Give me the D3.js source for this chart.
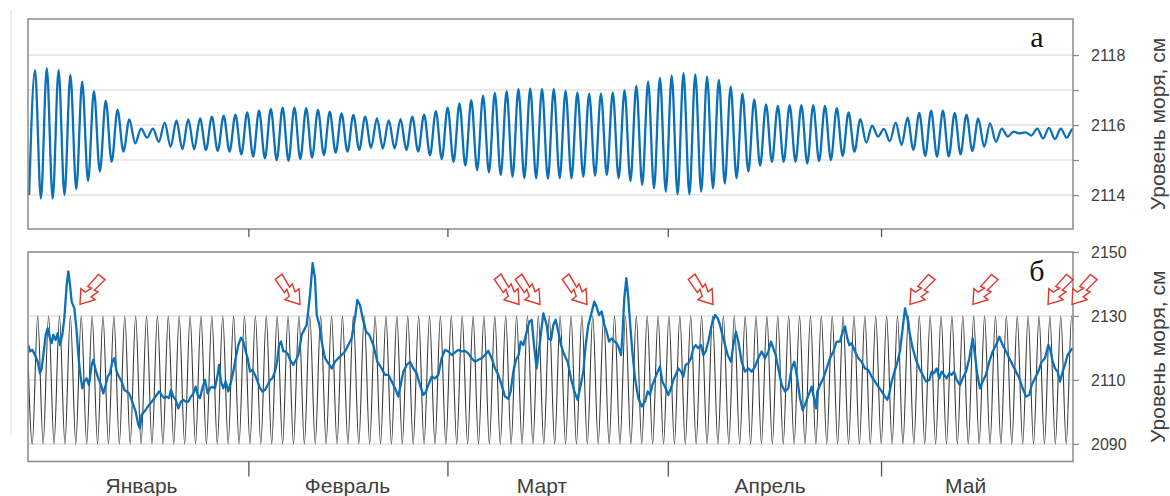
<!DOCTYPE html>
<html>
<head>
<meta charset="utf-8">
<script src="https://cdn.jsdelivr.net/npm/d3@7"></script>
<style>
  body { margin: 0; background: #fff; }
  svg { display: block; }
</style>
</head>
<body>
<div id="chart"></div>
<script>
// ---- data ----
const months = ["Январь", "Февраль", "Март", "Апрель", "Май"];
const monthLabelDay = [15.97, 44.94, 72.3, 104.4, 131.9];
const monthStartDay = [31, 59, 90, 120];
const lastDay = 147;

// panel а: successive highs/lows of the sea level, evenly spaced in time
const topStartDay = 0.155;
const topHalfPeriod = 0.8293;
const topExtremes = [
  2114.0,
  2117.57, 2113.90, 2117.62, 2113.90, 2117.57, 2114.00, 2117.43, 2114.17, 2117.24, 2114.40,
  2116.97, 2114.67, 2116.70, 2114.95, 2116.43, 2115.24, 2116.16, 2115.48, 2115.90, 2115.64,
  2115.90, 2115.52, 2116.07, 2115.38, 2116.13, 2115.31, 2116.16, 2115.31, 2116.19, 2115.29,
  2116.24, 2115.26, 2116.27, 2115.24, 2116.30, 2115.16, 2116.36, 2115.10, 2116.41, 2115.05,
  2116.46, 2115.00, 2116.50, 2114.98, 2116.50, 2115.03, 2116.48, 2115.07, 2116.43, 2115.14,
  2116.38, 2115.21, 2116.33, 2115.24, 2116.29, 2115.29, 2116.24, 2115.35, 2116.19,
  2115.33, 2116.14, 2115.33, 2116.17, 2115.29, 2116.24, 2115.24, 2116.30, 2115.14, 2116.40,
  2115.03, 2116.50, 2114.95, 2116.62, 2114.84, 2116.71, 2114.71, 2116.84, 2114.65, 2116.92,
  2114.57, 2116.97, 2114.52, 2117.03, 2114.48, 2117.05, 2114.48, 2117.03, 2114.46, 2117.03,
  2114.48, 2116.98, 2114.48, 2116.93, 2114.52, 2116.90, 2114.55, 2116.90, 2114.57, 2116.93,
  2114.48, 2117.00, 2114.40, 2117.12, 2114.29, 2117.24, 2114.19, 2117.35, 2114.10, 2117.41,
  2114.02, 2117.48, 2114.02, 2117.45, 2114.10, 2117.38, 2114.19, 2117.29, 2114.33, 2117.10,
  2114.48, 2116.90, 2114.67, 2116.73, 2114.84, 2116.59, 2114.95, 2116.55, 2114.95, 2116.57,
  2114.95, 2116.57, 2114.90, 2116.57, 2114.97, 2116.55, 2115.00, 2116.48, 2115.12, 2116.36,
  2115.24, 2116.17, 2115.50, 2115.98, 2115.67, 2115.89, 2115.54, 2116.07, 2115.43, 2116.21,
  2115.29, 2116.35, 2115.12, 2116.41, 2115.10, 2116.41, 2115.10, 2116.35, 2115.16, 2116.30,
  2115.26, 2116.19, 2115.38, 2116.05, 2115.52, 2115.90, 2115.67, 2115.81, 2115.76, 2115.79,
  2115.70, 2115.90, 2115.62, 2115.92, 2115.60, 2115.90, 2115.64, 2115.88, 2115.65
];

// panel б: reference tide (black), highs/lows evenly spaced in time
const tideStartDay = -0.166;
const tideHalfPeriod = 0.7655;
const tideExtremes = [
  2130, 2090, 2130, 2090, 2130, 2090, 2130, 2090, 2130, 2090, 2130, 2090, 2130, 2090, 2130, 2090, 2130, 2090, 2130, 2090,
  2130, 2090, 2130, 2090, 2130, 2090, 2130, 2090, 2130, 2090, 2130, 2090, 2130, 2090, 2130, 2090, 2130, 2090, 2130, 2090,
  2130, 2090, 2130, 2090, 2130, 2090, 2130, 2090, 2130, 2090, 2130, 2090, 2130, 2090, 2130, 2090, 2130, 2090, 2130, 2090,
  2130, 2090, 2130, 2090, 2130, 2090, 2130, 2090, 2130, 2090, 2130, 2090, 2130, 2090, 2130, 2090, 2130, 2090, 2130, 2090,
  2130, 2090, 2130, 2090, 2130, 2090, 2130, 2090, 2130, 2090, 2130, 2090, 2130, 2090, 2130, 2090, 2130, 2090, 2130, 2090,
  2130, 2090, 2130, 2090, 2130, 2090, 2130, 2090, 2130, 2090, 2130, 2090, 2130, 2090, 2130, 2090, 2130, 2090, 2130, 2090,
  2130, 2090, 2130, 2090, 2130, 2090, 2130, 2090, 2130, 2090, 2130, 2090, 2130, 2090, 2130, 2090, 2130, 2090, 2130, 2090,
  2130, 2090, 2130, 2090, 2130, 2090, 2130, 2090, 2130, 2090, 2130, 2090, 2130, 2090, 2130, 2090, 2130, 2090, 2130, 2090,
  2130, 2090, 2130, 2090, 2130, 2090, 2130, 2090, 2130, 2090, 2130, 2090, 2130, 2090, 2130, 2090, 2130, 2090, 2130, 2090,
  2130, 2090, 2130, 2090, 2130, 2090, 2130, 2090, 2130, 2090, 2130, 2090, 2130, 2090
];

// panel б: observed sea level, [day, cm]
const observed = [
  [0.05, 2120.9], [0.28, 2118.9], [0.61, 2119.4], [0.98, 2117.8], [1.36, 2115.7], [1.69, 2112.1], [1.92, 2113.6],
  [2.16, 2117.8], [2.49, 2124.1], [2.77, 2126.1], [3.09, 2123.0], [3.33, 2121.5], [3.56, 2124.1], [3.89, 2122.5],
  [4.17, 2124.6], [4.50, 2120.9], [4.83, 2124.1], [5.11, 2129.3], [5.44, 2139.7], [5.67, 2143.9], [5.91, 2139.7],
  [6.14, 2134.5], [6.52, 2132.4], [6.85, 2125.1], [7.08, 2117.8], [7.31, 2112.6], [7.64, 2107.4], [7.92, 2109.5],
  [8.25, 2110.5], [8.58, 2108.4], [8.96, 2114.7], [9.19, 2116.3], [9.52, 2113.1], [9.89, 2110.5], [10.27, 2108.4],
  [10.60, 2105.8], [10.93, 2108.4], [11.21, 2111.0], [11.53, 2112.1], [11.86, 2115.7], [12.14, 2116.8], [12.47, 2112.6],
  [12.80, 2111.0], [13.18, 2109.5], [13.55, 2106.9], [13.88, 2106.4], [14.21, 2105.8], [14.49, 2104.3], [14.82, 2102.2],
  [15.15, 2100.1], [15.52, 2095.9], [15.75, 2094.9], [15.99, 2099.1], [16.36, 2100.1], [16.69, 2101.1], [17.02, 2102.2],
  [17.40, 2103.2], [17.77, 2104.3], [18.10, 2105.3], [18.43, 2106.4], [18.80, 2105.3], [19.18, 2104.3], [19.51, 2104.8],
  [19.83, 2104.3], [20.12, 2106.9], [20.44, 2104.8], [20.77, 2103.8], [21.15, 2101.1], [21.52, 2103.2], [21.85, 2103.8],
  [22.18, 2103.2], [22.55, 2103.2], [22.93, 2104.8], [23.26, 2105.8], [23.59, 2107.9], [23.87, 2105.3], [24.19, 2104.3],
  [24.52, 2107.4], [24.90, 2110.0], [25.27, 2105.8], [25.60, 2107.4], [25.93, 2107.9], [26.30, 2107.4], [26.68, 2111.6],
  [26.87, 2114.7], [27.15, 2109.5], [27.48, 2107.4], [27.80, 2109.5], [28.18, 2106.4], [28.56, 2109.5], [28.88, 2112.6],
  [29.21, 2116.8], [29.59, 2120.9], [29.96, 2123.2], [30.29, 2122.0], [30.62, 2118.9], [30.90, 2116.8], [31.23, 2112.6],
  [31.56, 2113.1], [31.93, 2111.6], [32.31, 2109.5], [32.64, 2107.4], [32.96, 2106.4], [33.34, 2106.9], [33.71, 2108.4],
  [34.04, 2110.0], [34.37, 2110.5], [34.74, 2112.6], [35.03, 2115.7], [35.31, 2120.9], [35.59, 2122.0], [35.92, 2118.9],
  [36.25, 2118.9], [36.62, 2117.8], [36.86, 2116.3], [37.32, 2114.7], [37.70, 2116.3], [38.03, 2117.8], [38.50, 2124.1],
  [39.20, 2127.2], [39.67, 2136.6], [40.04, 2146.5], [40.37, 2141.8], [40.61, 2130.3], [40.98, 2127.2], [41.31, 2122.0],
  [41.78, 2116.8], [42.25, 2115.2], [42.72, 2113.6], [43.18, 2115.7], [43.65, 2116.8], [44.12, 2117.8], [44.59, 2118.9],
  [45.06, 2120.9], [45.53, 2123.0], [46.00, 2129.3], [46.33, 2135.0], [46.70, 2133.4], [47.08, 2129.3], [47.55, 2125.1],
  [48.01, 2124.1], [48.58, 2120.9], [49.14, 2115.7], [49.75, 2113.6], [50.22, 2111.6], [50.69, 2111.6], [51.16, 2109.5],
  [51.63, 2107.4], [52.09, 2104.8], [52.42, 2108.4], [52.80, 2112.6], [53.27, 2114.7], [53.74, 2115.7], [54.20, 2113.6],
  [54.67, 2112.1], [55.14, 2108.4], [55.61, 2105.3], [55.99, 2106.4], [56.31, 2108.4], [56.78, 2111.0], [57.25, 2110.5],
  [57.72, 2111.6], [58.19, 2116.8], [58.66, 2119.4], [59.13, 2118.9], [59.60, 2117.8], [60.07, 2118.6], [60.53, 2119.4],
  [61.00, 2118.9], [61.47, 2119.1], [61.94, 2118.3], [62.41, 2116.8], [62.88, 2115.7], [63.35, 2116.3], [63.82, 2116.8],
  [64.29, 2117.8], [64.75, 2119.1], [65.22, 2116.8], [65.69, 2113.6], [66.16, 2111.6], [66.63, 2108.4], [67.10, 2104.8],
  [67.57, 2104.1], [67.90, 2106.4], [68.27, 2112.6], [68.65, 2116.3], [69.02, 2117.8], [69.30, 2122.0], [69.68, 2120.9],
  [70.05, 2124.1], [70.52, 2128.2], [70.85, 2128.8], [71.18, 2120.9], [71.55, 2113.6], [72.02, 2122.0], [72.49, 2130.8],
  [72.96, 2127.2], [73.19, 2123.0], [73.57, 2122.5], [73.90, 2127.2], [74.22, 2128.8], [74.60, 2125.1], [74.98, 2120.9],
  [75.44, 2117.8], [75.91, 2115.7], [76.38, 2110.5], [76.85, 2106.4], [77.32, 2103.8], [77.65, 2107.4], [78.12, 2112.6],
  [78.45, 2120.9], [78.82, 2127.2], [79.20, 2130.3], [79.66, 2134.5], [79.99, 2132.9], [80.32, 2130.3], [80.70, 2131.4],
  [81.07, 2127.2], [81.40, 2125.1], [81.73, 2122.0], [82.10, 2123.0], [82.48, 2122.0], [82.81, 2121.5], [83.13, 2119.9],
  [83.42, 2117.8], [83.60, 2123.0], [83.88, 2135.5], [84.17, 2141.8], [84.45, 2135.5], [84.68, 2128.2], [85.01, 2118.9],
  [85.39, 2110.5], [85.85, 2104.3], [86.32, 2101.7], [86.79, 2103.2], [87.17, 2106.4], [87.50, 2105.3], [87.82, 2108.4],
  [88.20, 2110.5], [88.57, 2112.6], [88.90, 2114.2], [89.23, 2109.5], [89.70, 2107.4], [90.07, 2105.3], [90.45, 2107.4],
  [90.78, 2110.0], [91.11, 2111.6], [91.48, 2113.6], [91.86, 2112.6], [92.18, 2111.0], [92.51, 2114.7], [92.89, 2115.2],
  [93.26, 2116.8], [93.59, 2119.9], [93.92, 2120.9], [94.29, 2119.9], [94.67, 2120.9], [95.00, 2117.8], [95.33, 2118.9],
  [95.70, 2122.0], [96.17, 2127.2], [96.64, 2130.3], [97.01, 2129.3], [97.34, 2127.2], [97.67, 2124.1], [98.05, 2120.9],
  [98.42, 2117.8], [98.89, 2115.7], [99.26, 2121.5], [99.59, 2125.1], [99.92, 2122.0], [100.39, 2115.7], [100.86, 2112.6],
  [101.33, 2113.6], [101.80, 2112.6], [102.27, 2114.2], [102.73, 2116.8], [103.20, 2118.9], [103.67, 2116.8], [104.14, 2118.9],
  [104.52, 2122.0], [104.84, 2119.9], [105.17, 2117.8], [105.55, 2113.6], [106.02, 2108.4], [106.49, 2106.4], [106.95, 2107.4],
  [107.42, 2113.6], [107.80, 2115.7], [108.13, 2111.6], [108.46, 2106.4], [108.60, 2104.3], [108.97, 2100.6], [109.30, 2102.2],
  [109.63, 2104.3], [110.00, 2106.4], [110.24, 2107.9], [110.57, 2104.3], [110.85, 2101.1], [111.04, 2106.4], [111.41, 2108.4],
  [111.88, 2110.5], [112.35, 2113.6], [112.82, 2116.8], [113.29, 2118.9], [113.75, 2122.0], [114.22, 2122.0], [114.60, 2125.1],
  [114.93, 2126.7], [115.26, 2123.0], [115.54, 2120.9], [115.86, 2121.5], [116.33, 2118.9], [116.80, 2116.8], [117.27, 2115.7],
  [117.74, 2113.6], [118.21, 2113.1], [118.68, 2111.0], [119.15, 2109.5], [119.62, 2107.9], [120.09, 2106.4], [120.55, 2104.8],
  [120.88, 2103.8], [121.16, 2105.8], [121.49, 2109.5], [121.82, 2112.1], [122.19, 2114.7], [122.66, 2118.9], [123.04, 2126.1],
  [123.37, 2132.4], [123.70, 2129.3], [124.07, 2124.1], [124.45, 2119.9], [124.91, 2116.3], [125.38, 2113.6], [125.85, 2111.6],
  [126.32, 2109.5], [126.79, 2110.0], [127.12, 2112.6], [127.45, 2112.1], [127.82, 2113.6], [128.20, 2110.5], [128.52, 2112.6],
  [128.85, 2111.6], [129.23, 2110.5], [129.60, 2112.1], [129.93, 2111.6], [130.26, 2112.6], [130.64, 2110.0], [131.10, 2108.4],
  [131.48, 2110.5], [131.95, 2112.6], [132.42, 2116.8], [132.89, 2123.0], [133.21, 2117.8], [133.54, 2111.6], [133.92, 2107.4],
  [134.29, 2109.5], [134.76, 2111.6], [135.23, 2115.7], [135.70, 2118.9], [136.17, 2120.9], [136.64, 2123.5], [137.11, 2120.9],
  [137.58, 2118.9], [138.04, 2116.8], [138.51, 2114.7], [138.98, 2112.6], [139.45, 2110.5], [139.92, 2107.4], [140.39, 2104.8],
  [140.86, 2105.3], [141.19, 2108.4], [141.65, 2110.5], [142.12, 2112.6], [142.59, 2115.7], [143.06, 2116.8], [143.53, 2120.9],
  [143.76, 2119.9], [144.14, 2115.7], [144.47, 2113.6], [144.84, 2112.6], [145.17, 2109.5], [145.55, 2112.6], [145.92, 2115.2],
  [146.25, 2117.8], [146.58, 2118.9], [146.95, 2119.9]
];

// surge markers (red arrows): day of the tip and pointing direction
const arrowDay = [7.31, 38.26, 69.07, 72.02, 78.63, 96.36, 124.07, 132.93, 143.48, 146.86];
const arrowDir = ["sw", "se", "se", "se", "se", "se", "sw", "sw", "sw", "sw"];
const arrowLevel = 2133.6;

// ---- chart ----
const width = 1170, height = 496;
const left = 28, right = 1073;
const axisColor = "#8a8a8a", textColor = "#404040";
const sans = "'Liberation Sans', Arial, sans-serif";

const svg = d3.select("#chart").append("svg")
  .attr("width", width)
  .attr("height", height);

// faint vertical rule at the far left of the scan
svg.append("line")
  .attr("x1", 11).attr("x2", 11).attr("y1", 10).attr("y2", 435)
  .attr("stroke", "#e8e8e8").attr("stroke-width", 1.5);

const x = d3.scaleLinear().domain([0, lastDay]).range([left, right]);

const panels = [
  { id: "a", top: 19, bottom: 229, domain: [2113.03, 2119.03],
    ticks: [2114, 2115, 2116, 2117, 2118], labels: [2114, 2116, 2118],
    grid: [2114, 2115, 2116, 2117, 2118], monthTick: 8, letter: "а", letterY: 46.5 },
  { id: "b", top: 252, bottom: 461.5, domain: [2084.5, 2150],
    ticks: [2090, 2110, 2130, 2150], labels: [2090, 2110, 2130, 2150],
    grid: [2090, 2110, 2130], monthTick: 15, letter: "б", letterY: 281 }
];

panels.forEach(p => {
  p.y = d3.scaleLinear().domain(p.domain).range([p.bottom, p.top]);
  const g = svg.append("g");

  svg.append("clipPath").attr("id", "clip-" + p.id)
    .append("rect")
    .attr("x", left).attr("y", p.top)
    .attr("width", right - left).attr("height", p.bottom - p.top);

  g.selectAll(".grid")
    .data(p.grid)
    .enter().append("line")
    .attr("x1", left).attr("x2", right)
    .attr("y1", d => p.y(d)).attr("y2", d => p.y(d))
    .attr("stroke", "#e3e3e3").attr("stroke-width", 1.5);

  p.plot = g.append("g").attr("clip-path", `url(#clip-${p.id})`);

  g.append("rect")
    .attr("x", left).attr("y", p.top)
    .attr("width", right - left).attr("height", p.bottom - p.top)
    .attr("fill", "none").attr("stroke", axisColor).attr("stroke-width", 1.5);

  const yAxis = g.append("g")
    .attr("transform", `translate(${right},0)`)
    .call(d3.axisRight(p.y)
      .tickValues(p.ticks)
      .tickSize(6)
      .tickPadding(12)
      .tickFormat(d => p.labels.includes(d) ? d : ""));
  yAxis.select(".domain").remove();
  yAxis.selectAll("line").attr("stroke", axisColor).attr("stroke-width", 1.3);
  yAxis.selectAll("text")
    .style("font-family", sans).style("font-size", "16px").attr("fill", textColor);

  const xAxis = g.append("g")
    .attr("transform", `translate(0,${p.bottom})`)
    .call(d3.axisBottom(x).tickValues(monthStartDay).tickSize(p.monthTick).tickFormat(""));
  xAxis.select(".domain").remove();
  xAxis.selectAll("line").attr("stroke", "#555").attr("stroke-width", 1.3);

  g.append("text")
    .attr("transform", `translate(1165,${(p.top + p.bottom) / 2}) rotate(-90)`)
    .attr("text-anchor", "middle")
    .style("font-family", sans).style("font-size", "21px")
    .attr("fill", textColor)
    .text("Уровень моря, см");

  g.append("text")
    .attr("x", 1037).attr("y", p.letterY)
    .attr("text-anchor", "middle")
    .style("font-family", "'Liberation Serif', 'Times New Roman', serif")
    .style("font-size", "30px")
    .attr("fill", "#111")
    .text(p.letter);
});

const [pa, pb] = panels;

// panel а
const topPoints = topExtremes.map((v, i) => [topStartDay + i * topHalfPeriod, v]);
pa.plot.append("path")
  .datum(topPoints)
  .attr("fill", "none")
  .attr("stroke", "#0a70b8")
  .attr("stroke-width", 2.3)
  .attr("d", d3.line().x(d => x(d[0])).y(d => pa.y(d[1])).curve(d3.curveMonotoneX));

// panel б
const tidePoints = tideExtremes.map((v, i) => [tideStartDay + i * tideHalfPeriod, v]);
pb.plot.append("path")
  .datum(tidePoints)
  .attr("fill", "none")
  .attr("stroke", "#3a3a3a")
  .attr("stroke-width", 1.1)
  .attr("d", d3.line().x(d => x(d[0])).y(d => pb.y(d[1])).curve(d3.curveMonotoneX));

pb.plot.append("path")
  .datum(observed)
  .attr("fill", "none")
  .attr("stroke", "#0a70b8")
  .attr("stroke-width", 2.3)
  .attr("stroke-linejoin", "round")
  .attr("d", d3.line().x(d => x(d[0])).y(d => pb.y(d[1])));

// lightning-style arrow, drawn pointing down with its tip at the origin
const arrowShape = "M0,0 L9,-13 L4,-13 L6.5,-21 L2.5,-20 L4.5,-35 L-4,-35 L-5,-19 L-1,-20 L-3.5,-13 L-9,-13 Z";
svg.append("g").selectAll("path")
  .data(arrowDay.map((d, i) => ({ day: d, dir: arrowDir[i] })))
  .enter().append("path")
  .attr("d", arrowShape)
  .attr("transform", d => `translate(${x(d.day)},${pb.y(arrowLevel)}) rotate(${d.dir === "sw" ? 38 : -38})`)
  .attr("fill", "#fff")
  .attr("stroke", "#e3342b")
  .attr("stroke-width", 1.4)
  .attr("stroke-linejoin", "miter");

// month names under the lower panel
svg.append("g").selectAll("text")
  .data(months)
  .enter().append("text")
  .attr("x", (d, i) => x(monthLabelDay[i]))
  .attr("y", 493)
  .attr("text-anchor", "middle")
  .style("font-family", sans).style("font-size", "21px")
  .attr("fill", textColor)
  .text(d => d);
</script>
</body>
</html>
